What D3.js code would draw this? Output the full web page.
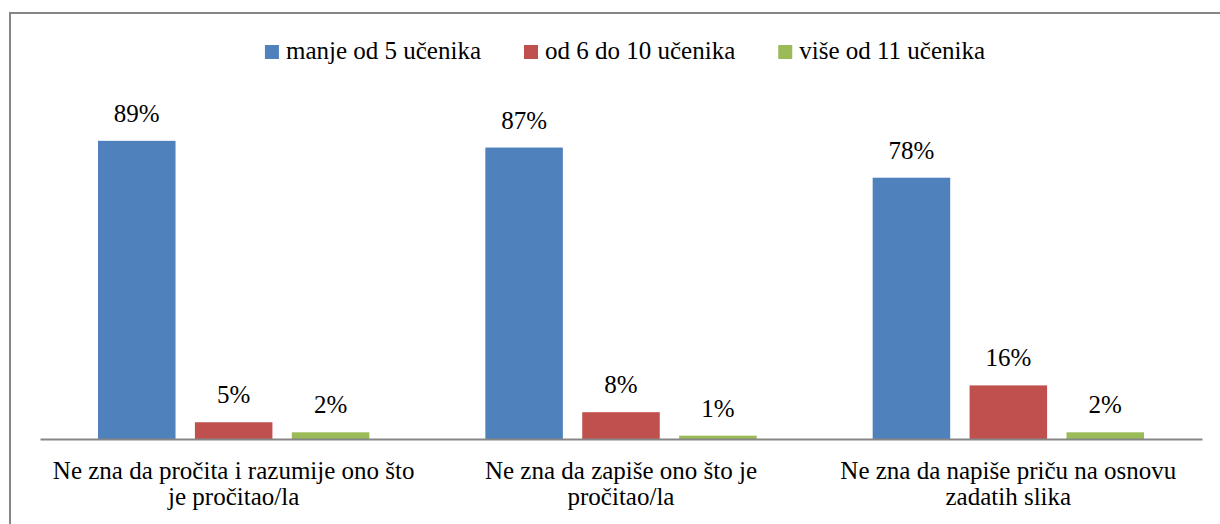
<!DOCTYPE html>
<html>
<head>
<meta charset="utf-8">
<script src="https://cdn.jsdelivr.net/npm/d3@7"></script>
<style>
  html, body { margin: 0; padding: 0; background: #fff; }
  svg { display: block; }
</style>
</head>
<body>
<svg id="chart" width="1220" height="524"></svg>
<script>
// Categories (line breaks mark where each axis label wraps)
const categories = [
  "Ne zna da pročita i razumije ono što\nje pročitao/la",
  "Ne zna da zapiše ono što je\npročitao/la",
  "Ne zna da napiše priču na osnovu\nzadatih slika"
];
const seriesNames = ["manje od 5 učenika", "od 6 do 10 učenika", "više od 11 učenika"];
const seriesColors = ["#4F81BD", "#C0504D", "#9BBB59"];
const lessThan5 = [89, 87, 78];
const from6to10 = [5, 8, 16];
const moreThan11 = [2, 1, 2];
const seriesValues = [lessThan5, from6to10, moreThan11];

const FONT = "'Liberation Serif', Tinos, 'Times New Roman', 'DejaVu Serif', serif";
const svg = d3.select("#chart")
  .style("font-family", FONT);
const W = 1220, H = 524;
const fontSize = 25;

// Outer chart frame
svg.append("rect")
  .attr("x", 10).attr("y", 13)
  .attr("width", W + 20).attr("height", H + 20)
  .attr("fill", "#fff")
  .attr("stroke", "#868686").attr("stroke-width", 2);

const plot = { left: 40, right: 1202, top: 104, bottom: 439 };

const x0 = d3.scaleBand()
  .domain(d3.range(categories.length))
  .range([plot.left, plot.right])
  .paddingInner(0).paddingOuter(0);

const x1 = d3.scaleBand()
  .domain(d3.range(seriesNames.length))
  .range([58, x0.bandwidth() - 58])
  .paddingInner(0.2).paddingOuter(0);

const y = d3.scaleLinear().domain([0, 100]).range([plot.bottom, plot.top]);

// Bars and value labels
const groups = svg.append("g").selectAll("g")
  .data(categories)
  .join("g")
  .attr("transform", (d, i) => `translate(${x0(i)},0)`);

groups.each(function (cat, ci) {
  const g = d3.select(this);
  const rows = seriesValues.map((vals, si) => ({ si, v: vals[ci] }));
  g.selectAll("rect")
    .data(rows)
    .join("rect")
    .attr("x", d => x1(d.si))
    .attr("y", d => y(d.v))
    .attr("width", x1.bandwidth())
    .attr("height", d => y(0) - y(d.v))
    .attr("fill", d => seriesColors[d.si]);
  g.selectAll("text.val")
    .data(rows)
    .join("text")
    .attr("class", "val")
    .attr("x", d => x1(d.si) + x1.bandwidth() / 2)
    .attr("y", d => y(d.v) - 19)
    .attr("text-anchor", "middle")
    .attr("font-family", FONT)
    .attr("font-size", fontSize)
    .attr("fill", "#000")
    .text(d => d.v + "%");
});

// Category axis
const xAxis = d3.axisBottom(x0).tickSize(0).tickFormat("");
const axisG = svg.append("g")
  .attr("transform", `translate(0,${plot.bottom})`)
  .call(xAxis);
axisG.select(".domain").attr("stroke", "#868686").attr("stroke-width", 2);

categories.forEach((cat, i) => {
  const cx = x0(i) + x0.bandwidth() / 2;
  const t = svg.append("text")
    .attr("x", cx)
    .attr("y", 479)
    .attr("text-anchor", "middle")
    .attr("font-family", FONT)
    .attr("font-size", fontSize)
    .attr("fill", "#000");
  cat.split("\n").forEach((line, li) => {
    t.append("tspan")
      .attr("x", cx)
      .attr("dy", li === 0 ? 0 : 26)
      .text(line);
  });
});

// Legend
const legend = svg.append("g");
let cursor = 0;
seriesNames.forEach((name, i) => {
  const item = legend.append("g").attr("transform", `translate(${cursor},0)`);
  item.append("rect")
    .attr("x", 0).attr("y", 45)
    .attr("width", 14).attr("height", 14)
    .attr("fill", seriesColors[i]);
  const t = item.append("text")
    .attr("x", 21).attr("y", 59)
    .attr("font-family", FONT)
    .attr("font-size", fontSize)
    .attr("fill", "#000")
    .text(name);
  cursor += 21 + t.node().getComputedTextLength() + 43;
});
const legendWidth = cursor - 43;
legend.attr("transform", `translate(${625 - legendWidth / 2},0)`);
</script>
</body>
</html>
